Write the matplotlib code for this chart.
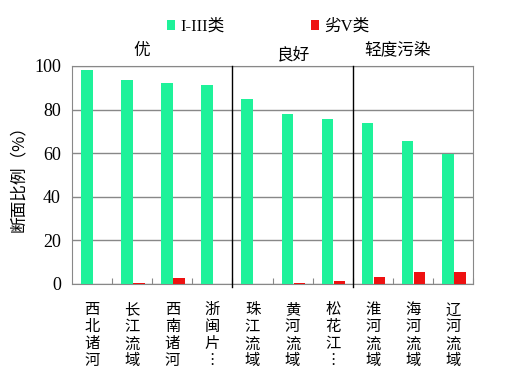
import matplotlib
matplotlib.use("Agg")
import matplotlib.pyplot as plt
import numpy as np

categories = ["西北诸河", "长江流域", "西南诸河", "浙闽片…", "珠江流域",
              "黄河流域", "松花江…", "淮河流域", "海河流域", "辽河流域"]
good = [98.2, 93.6, 92.2, 91.3, 84.9, 78.0, 75.7, 73.9, 65.6, 59.6]
bad = [0.0, 0.5, 2.9, 0.0, 0.0, 0.5, 1.4, 3.4, 5.6, 5.6]
groups = ["优", "良好", "轻度污染"]
series_names = ["I-III类", "劣V类"]
yticks = [0, 20, 40, 60, 80, 100]

cjk = ['Noto Sans CJK SC', 'DejaVu Sans']
serif_cjk = ['Liberation Serif', 'Noto Sans CJK SC']
plt.rcParams['font.family'] = cjk

fig = plt.figure(figsize=(5.29, 3.77), dpi=100)
ax = fig.add_axes([72/529, 1-284/377, (473-72)/529, (284-66)/377])

x = np.arange(len(categories))
w = 0.29
ax.bar(x - 0.13, good, w, color="#1EF29A", zorder=3, label=series_names[0])
ax.bar(x + 0.17, bad, w, color="#EE1111", zorder=3, label=series_names[1])

ax.set_xlim(-0.5, len(categories) - 0.5)
ax.set_ylim(0, 100)
ax.yaxis.grid(True, color="#888888", linewidth=1)
ax.set_axisbelow(True)
for s in ax.spines.values():
    s.set_color("#888888")
ax.tick_params(axis='y', length=0, pad=8)
ax.tick_params(axis='x', direction='in', length=4, color="#888888")
ax.set_xticks(x + 0.5, minor=False)
ax.set_xticklabels([])
ax.set_yticks(yticks)
ax.set_yticklabels([str(v) for v in yticks])
for lbl in ax.get_yticklabels():
    lbl.set_fontfamily('Liberation Serif')
    lbl.set_fontsize(13)

for c, name in zip(x, categories):
    ax.text(c, -8, "\n".join(name.replace("…", "︙")), ha='center', va='top',
            fontsize=11, linespacing=1.0, family=cjk)

for sep in [3.5, 6.5]:
    ax.plot([sep, sep], [-1.5, 100], color='black', linewidth=1, clip_on=False, zorder=4)

ax.set_ylabel("断面比例（%）", fontsize=12, labelpad=5)

fig.text(142/529, 1-50/377, groups[0], ha='center', va='center', fontsize=12)
fig.text(293/529, 1-55/377, groups[1], ha='center', va='center', fontsize=12)
fig.text(398/529, 1-50/377, groups[2], ha='center', va='center', fontsize=12)

leg = fig.legend(loc='center', bbox_to_anchor=(268/529, 1-27/377), ncol=2, frameon=False,
                 prop={'family': serif_cjk, 'size': 12}, handlelength=0.5, handleheight=0.5,
                 handletextpad=0.3, columnspacing=5.2)

fig.savefig("out.png", dpi=100)
